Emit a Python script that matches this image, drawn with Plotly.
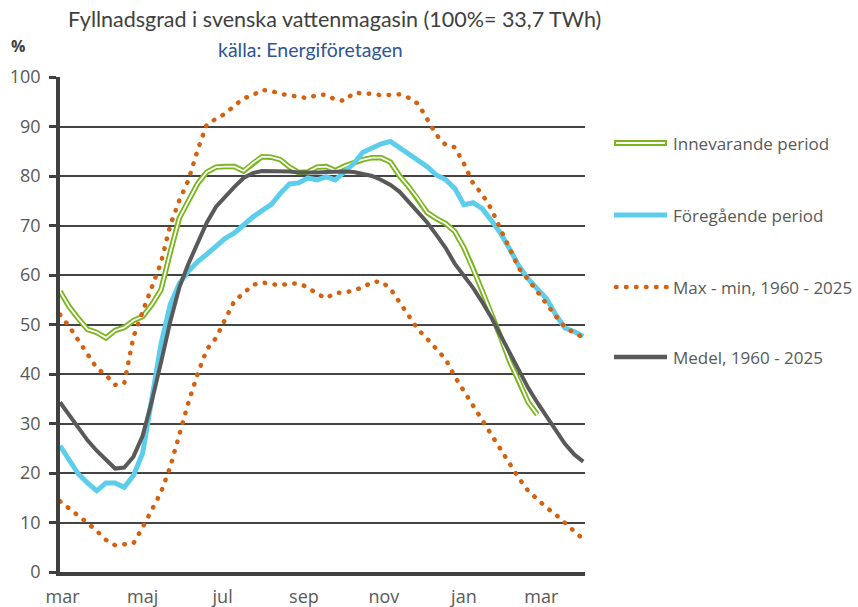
import pandas as pd
import plotly.graph_objects as go

# ---------------- data (weekly, week 0 = start of March) ----------------
start_date = "2025-02-27"
n_weeks = 58
weeks = pd.date_range(start_date, periods=n_weeks, freq="7D")

innevarande = [56.7, 53.6, 51.2, 49.0, 48.4, 47.3, 48.8, 49.4, 50.8, 51.6,
               54.0, 57.0, 64.5, 71.5, 75.0, 78.5, 80.8, 81.8, 81.9, 81.9,
               81.0, 82.6, 83.9, 83.8, 83.3, 81.8, 80.7, 80.8, 81.8, 81.9,
               81.1, 82.0, 82.7, 83.3, 83.7, 83.7, 82.8, 80.0, 77.8, 75.4,
               72.6, 71.4, 70.4, 68.8, 65.5, 61.3, 56.8, 52.2, 47.5, 42.5,
               38.5, 34.3, 31.8]

foregaende = [25.5, 22.6, 19.8, 18.0, 16.4, 18.0, 18.0, 17.1, 19.5, 24.0,
              35.8, 46.0, 54.0, 58.3, 60.8, 62.7, 64.2, 65.8, 67.4, 68.5,
              70.2, 71.7, 73.0, 74.2, 76.5, 78.4, 78.6, 79.6, 79.2, 79.8,
              79.2, 81.0, 82.5, 84.8, 85.6, 86.5, 87.0, 85.7, 84.4, 83.0,
              81.9, 80.2, 79.3, 77.5, 74.2, 74.6, 73.4, 71.0, 68.4, 65.2,
              61.8, 59.2, 57.3, 55.2, 52.0, 49.3, 48.6, 47.6]

maximum = [52.0, 49.6, 46.8, 44.0, 41.2, 39.8, 37.8, 38.1, 47.5, 52.6,
           57.8, 62.5, 70.0, 75.1, 79.2, 85.3, 90.5, 91.5, 92.6, 94.2,
           95.7, 96.3, 97.4, 97.2, 96.6, 96.3, 96.0, 95.7, 96.4, 96.4,
           95.4, 95.2, 96.8, 96.8, 96.6, 96.3, 96.3, 96.5, 95.8, 94.6,
           91.5, 88.3, 86.3, 85.8, 82.5, 78.5, 76.3, 73.3, 69.2, 65.2,
           61.3, 59.1, 56.6, 54.2, 51.7, 49.5, 48.3, 47.4]

minimum = [14.3, 12.9, 11.4, 9.9, 8.3, 6.5, 5.4, 5.7, 5.8, 9.0,
           12.6, 16.1, 21.2, 27.9, 34.3, 40.1, 45.0, 47.3, 51.0, 54.8,
           56.3, 58.0, 58.5, 58.1, 57.9, 58.3, 58.3, 57.5, 56.2, 55.3,
           56.4, 56.4, 57.0, 57.5, 58.6, 58.7, 57.2, 54.5, 51.7, 49.0,
           47.1, 45.2, 43.0, 39.5, 36.6, 33.7, 30.4, 27.7, 24.7, 22.0,
           18.9, 16.4, 14.6, 13.0, 11.6, 10.0, 8.3, 6.6]

medel = [34.3, 31.8, 29.2, 26.6, 24.5, 22.6, 20.9, 21.1, 23.3, 27.5,
         34.5, 42.3, 50.5, 57.5, 62.3, 66.5, 70.6, 73.8, 75.9, 77.8,
         79.6, 80.6, 81.0, 81.0, 81.0, 80.9, 80.7, 80.6, 80.7, 80.8,
         80.9, 80.9, 80.8, 80.5, 80.0, 79.2, 78.2, 76.8, 74.8, 72.7,
         70.6, 68.1, 65.5, 62.3, 59.8, 57.4, 54.5, 51.4, 47.8, 44.2,
         40.6, 37.2, 34.2, 31.5, 28.6, 25.9, 23.8, 22.3]

tick_dates = ["2025-03-01", "2025-05-01", "2025-07-01", "2025-09-01",
              "2025-11-01", "2026-01-01", "2026-03-01"]
tick_labels = ["mar", "maj", "jul", "sep", "nov", "jan", "mar"]

series_names = ["Innevarande period", "Föregående period",
                "Max - min, 1960 - 2025", "Medel, 1960 - 2025"]

title_text = "Fyllnadsgrad i svenska vattenmagasin (100%= 33,7 TWh)"
source_text = "källa: Energiföretagen"

# ---------------- styles ----------------
GREEN = "#79B51C"
BLUE = "#5CCEEB"
ORANGE = "#D4610F"
GRAY = "#595959"
TEXT = "#595959"
DARK = "#404040"
FONT_T = "Lato"
FONT_A = "Open Sans"
DOT = "0.5px,9.5px"

fig = go.Figure()

n_cur = len(innevarande)
fig.add_trace(go.Scatter(x=weeks[:n_cur], y=innevarande, mode="lines",
                         line=dict(color=GREEN, width=5.5), name=series_names[0],
                         showlegend=False, hoverinfo="skip"))
fig.add_trace(go.Scatter(x=weeks[:n_cur], y=innevarande, mode="lines",
                         line=dict(color="white", width=1.8), showlegend=False,
                         hoverinfo="skip"))
fig.add_trace(go.Scatter(x=weeks, y=foregaende, mode="lines",
                         line=dict(color=BLUE, width=5), name=series_names[1],
                         showlegend=False))
fig.add_trace(go.Scatter(x=weeks, y=maximum, mode="lines",
                         line=dict(color=ORANGE, width=4.5, dash=DOT),
                         name=series_names[2], showlegend=False))
fig.add_trace(go.Scatter(x=weeks, y=minimum, mode="lines",
                         line=dict(color=ORANGE, width=4.5, dash=DOT),
                         name=series_names[2], showlegend=False))
fig.add_trace(go.Scatter(x=weeks, y=medel, mode="lines",
                         line=dict(color=GRAY, width=4), name=series_names[3],
                         showlegend=False))

# ---------------- manual legend ----------------
L = 60.0
W = 525.0
T = 77.0
H = 495.0


def px_x(p):
    return (p - L) / W


def px_y(p):
    return 1 - (p - T) / H


legend_rows = [143, 215, 287, 357]
x0, x1, xt = px_x(614), px_x(667), px_x(671)
shapes = []
shapes.append(dict(type="line", xref="paper", yref="paper", x0=x0, x1=x1,
                   y0=px_y(legend_rows[0]), y1=px_y(legend_rows[0]),
                   line=dict(color=GREEN, width=6)))
shapes.append(dict(type="line", xref="paper", yref="paper", x0=px_x(616), x1=px_x(665),
                   y0=px_y(legend_rows[0]), y1=px_y(legend_rows[0]),
                   line=dict(color="white", width=2)))
shapes.append(dict(type="line", xref="paper", yref="paper", x0=x0, x1=x1,
                   y0=px_y(legend_rows[1]), y1=px_y(legend_rows[1]),
                   line=dict(color=BLUE, width=5)))
shapes.append(dict(type="line", xref="paper", yref="paper", x0=px_x(616), x1=x1,
                   y0=px_y(legend_rows[2]), y1=px_y(legend_rows[2]),
                   line=dict(color=ORANGE, width=4.5, dash=DOT)))
shapes.append(dict(type="line", xref="paper", yref="paper", x0=x0, x1=x1,
                   y0=px_y(legend_rows[3]), y1=px_y(legend_rows[3]),
                   line=dict(color=GRAY, width=4.5)))

annotations = []
for name, row in zip(series_names, legend_rows):
    annotations.append(dict(xref="paper", yref="paper", x=xt, y=px_y(row),
                            xanchor="left", yanchor="middle", text=name,
                            showarrow=False, font=dict(family=FONT_A, size=17, color=TEXT)))

annotations.append(dict(xref="paper", yref="paper", x=px_x(310), y=px_y(49),
                        xanchor="center", yanchor="middle", text=source_text,
                        showarrow=False, font=dict(family=FONT_T, size=19.5, color="#2F5496")))
annotations.append(dict(xref="paper", yref="paper", x=px_x(9), y=px_y(46),
                        xanchor="left", yanchor="middle", text="<b>%</b>",
                        showarrow=False, font=dict(family=FONT_A, size=16, color=DARK)))

fig.update_layout(
    width=858, height=607, autosize=False,
    margin=dict(l=60, r=273, t=77, b=35),
    paper_bgcolor="white", plot_bgcolor="white",
    font=dict(family=FONT_A, color=TEXT),
    title=dict(text=title_text, x=68 / 858, xanchor="left", y=1 - 19 / 607,
               yanchor="middle", font=dict(family=FONT_T, size=21.5, color=DARK)),
    showlegend=False,
    shapes=shapes,
    annotations=annotations,
)

fig.update_xaxes(
    type="date",
    range=["2025-02-27", "2026-04-03 08:00"],
    tickvals=tick_dates, ticktext=tick_labels,
    showgrid=False, zeroline=False,
    showline=True, linecolor=DARK, linewidth=3.5,
    ticks="", tickfont=dict(family=FONT_A, size=18, color=TEXT),
    ticklabelstandoff=6, automargin=False,
)
fig.update_yaxes(
    range=[0, 100], dtick=10, tick0=0,
    showgrid=True, gridcolor="#444444", gridwidth=1.5,
    zeroline=False,
    showline=True, linecolor=DARK, linewidth=3.5,
    ticks="outside", ticklen=7, tickwidth=2.5, tickcolor=DARK,
    tickfont=dict(family=FONT_A, size=18, color=TEXT),
    ticklabelstandoff=5, automargin=False,
)

post_js = """
document.body.style.margin = '0';
document.body.style.padding = '0';
var gd = document.getElementById('{plot_id}');
function roundDots(){
  document.querySelectorAll('path').forEach(function(p){
    var d = p.style.strokeDasharray;
    if (d && d !== 'none' && d.indexOf('0.5') >= 0) { p.style.strokeLinecap = 'round'; }
  });
}
roundDots();
if (gd && gd.on) { gd.on('plotly_afterplot', roundDots); }
"""

fig.write_html("out.html", post_script=post_js, config={"displayModeBar": False})
